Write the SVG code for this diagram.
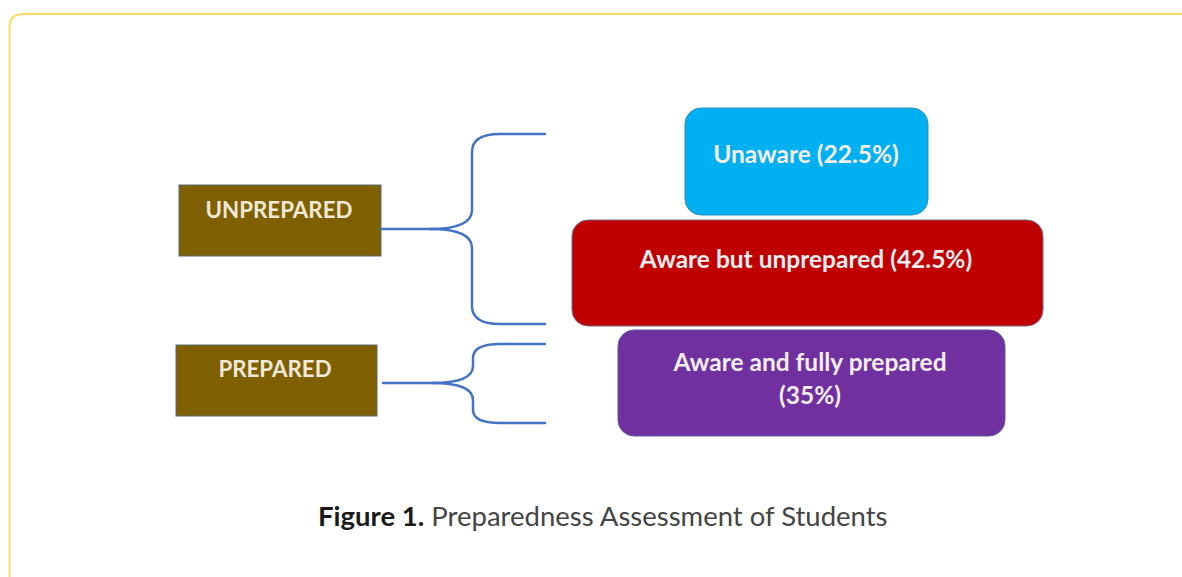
<svg xmlns="http://www.w3.org/2000/svg" width="1182" height="577" viewBox="0 0 1182 577">
<style>
.lbl{font-family:Lato,"Open Sans","Liberation Sans",sans-serif;font-size:24.5px;font-weight:bold;fill:#f4eef0;text-anchor:middle}
.cat{font-family:Lato,"Open Sans","Liberation Sans",sans-serif;font-size:22.3px;font-weight:bold;fill:#f0e8d8;text-anchor:middle}
.brace{fill:none;stroke:#4472C4;stroke-width:2.5;stroke-linecap:round}
.cap{font-family:Lato,"Open Sans","Liberation Sans",sans-serif;font-size:27.5px;fill:#444444}
</style>
<rect width="1182" height="577" fill="#ffffff"/>
<path d="M9.5 577 V28 Q9.5 14 23.5 14 H1182" fill="none" stroke="#FFD966" stroke-width="2"/>
<g id="unprepared">
<rect x="179" y="185" width="202" height="71" fill="#7F6000" stroke="#5a6a78" stroke-width="1"/>
<text class="cat" x="279" y="218">UNPREPARED</text>
</g>
<g id="prepared">
<rect x="176" y="345" width="201" height="71" fill="#7F6000" stroke="#5a6a78" stroke-width="1"/>
<text class="cat" x="275" y="377">PREPARED</text>
</g>
<g id="connectors">
<path class="brace" d="M381 229 H430 Q472 229 472 210 V152 Q472 134 500 134 H545"/>
<path class="brace" d="M430 229 Q472 229 472 248 V306 Q472 324 500 324 H545"/>
<path class="brace" d="M383 383 H432 Q473 383 473 366 V358 Q473 344 500 344 H545"/>
<path class="brace" d="M432 383 Q473 383 473 400 V410 Q473 423 500 423 H545"/>
</g>
<g id="unaware">
<rect x="685" y="108" width="243" height="107" rx="16" fill="#00B0F0" stroke="#2f8fc4" stroke-width="1"/>
<text class="lbl" x="806" y="163">Unaware (22.5%)</text>
</g>
<g id="aware-unprepared">
<rect x="572" y="220" width="471" height="106" rx="16" fill="#C00000" stroke="#7a6a8a" stroke-width="1"/>
<text class="lbl" x="806" y="268">Aware but unprepared (42.5%)</text>
</g>
<g id="aware-prepared">
<rect x="618" y="330" width="387" height="106" rx="16" fill="#7030A0" stroke="#5a5a9a" stroke-width="1"/>
<text class="lbl" x="810" y="371">Aware and fully prepared</text>
<text class="lbl" x="810" y="404">(35%)</text>
</g>
<text class="cap" x="318" y="526"><tspan font-weight="bold" fill="#1a1a1a">Figure 1.</tspan> Preparedness Assessment of Students</text>
</svg>
